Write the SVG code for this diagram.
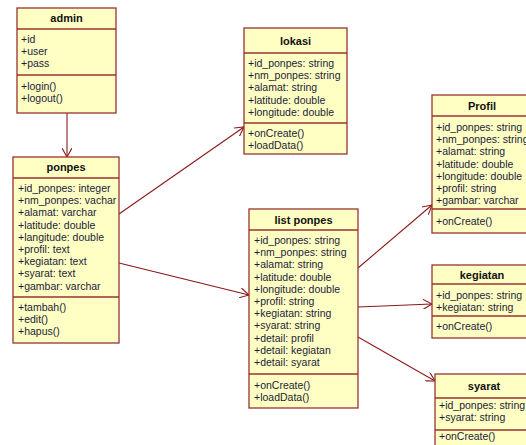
<svg xmlns="http://www.w3.org/2000/svg" width="526" height="445" viewBox="0 0 526 445">
<style>
.box{fill:#FFFFC4;stroke:#993333;stroke-width:1.3}
.sep{stroke:#993333;stroke-width:1.3}
.t{font-family:"Liberation Sans",Arial,sans-serif;font-size:10.5px;fill:#1c1c3a}
.h{font-family:"Liberation Sans",Arial,sans-serif;font-size:11px;font-weight:bold;fill:#111;text-anchor:middle}
.c{stroke:#8B1A1A;stroke-width:1.1;fill:none;marker-end:url(#arr)}
</style>
<defs>
<marker id="arr" markerWidth="10" markerHeight="10" refX="9" refY="5" orient="auto" markerUnits="userSpaceOnUse">
<path d="M0,0 L9,5 L0,10" fill="none" stroke="#8B1A1A" stroke-width="1.1"/>
</marker>
</defs>
<rect width="526" height="445" fill="#fff"/>
<g id="connectors">
<line class="c" x1="67" y1="113" x2="67" y2="157"/>
<line class="c" x1="119" y1="214" x2="244" y2="127"/>
<line class="c" x1="119" y1="263" x2="249" y2="295"/>
<line class="c" x1="358" y1="268" x2="432" y2="205"/>
<line class="c" x1="358" y1="307" x2="432" y2="304"/>
<line class="c" x1="358" y1="337" x2="435" y2="381"/>
</g>
<g id="admin">
<rect class="box" x="17" y="8" width="99" height="105"/>
<line class="sep" x1="17" y1="29" x2="116" y2="29"/>
<line class="sep" x1="17" y1="75" x2="116" y2="75"/>
<text class="h" x="66.5" y="22">admin</text>
<text class="t" x="21" y="43">+id</text>
<text class="t" x="21" y="55.2">+user</text>
<text class="t" x="21" y="67.4">+pass</text>
<text class="t" x="21" y="90">+login()</text>
<text class="t" x="21" y="102">+logout()</text>
</g>
<g id="ponpes">
<rect class="box" x="13" y="157" width="106" height="186"/>
<line class="sep" x1="13" y1="178" x2="119" y2="178"/>
<line class="sep" x1="13" y1="297" x2="119" y2="297"/>
<text class="h" x="66" y="171">ponpes</text>
<text class="t" x="18" y="192">+id_ponpes: integer</text>
<text class="t" x="18" y="204.2">+nm_ponpes: vachar</text>
<text class="t" x="18" y="216.4">+alamat: varchar</text>
<text class="t" x="18" y="228.6">+latitude: double</text>
<text class="t" x="18" y="240.8">+langitude: double</text>
<text class="t" x="18" y="253">+profil: text</text>
<text class="t" x="18" y="265.2">+kegiatan: text</text>
<text class="t" x="18" y="277.4">+syarat: text</text>
<text class="t" x="18" y="289.6">+gambar: varchar</text>
<text class="t" x="18" y="311">+tambah()</text>
<text class="t" x="18" y="323">+edit()</text>
<text class="t" x="18" y="335">+hapus()</text>
</g>
<g id="lokasi">
<rect class="box" x="244" y="28" width="103" height="126"/>
<line class="sep" x1="244" y1="53" x2="347" y2="53"/>
<line class="sep" x1="244" y1="123" x2="347" y2="123"/>
<text class="h" x="295.5" y="45">lokasi</text>
<text class="t" x="248" y="67">+id_ponpes: string</text>
<text class="t" x="248" y="79.2">+nm_ponpes: string</text>
<text class="t" x="248" y="91.4">+alamat: string</text>
<text class="t" x="248" y="103.6">+latitude: double</text>
<text class="t" x="248" y="115.8">+longitude: double</text>
<text class="t" x="248" y="137">+onCreate()</text>
<text class="t" x="248" y="149">+loadData()</text>
</g>
<g id="list-ponpes">
<rect class="box" x="249" y="209" width="109" height="199"/>
<line class="sep" x1="249" y1="230" x2="358" y2="230"/>
<line class="sep" x1="249" y1="374" x2="358" y2="374"/>
<text class="h" x="303.5" y="224">list ponpes</text>
<text class="t" x="254" y="244">+id_ponpes: string</text>
<text class="t" x="254" y="256.2">+nm_ponpes: string</text>
<text class="t" x="254" y="268.4">+alamat: string</text>
<text class="t" x="254" y="280.6">+latitude: double</text>
<text class="t" x="254" y="292.8">+longitude: double</text>
<text class="t" x="254" y="305">+profil: string</text>
<text class="t" x="254" y="317.2">+kegiatan: string</text>
<text class="t" x="254" y="329.4">+syarat: string</text>
<text class="t" x="254" y="341.6">+detail: profil</text>
<text class="t" x="254" y="353.8">+detail: kegiatan</text>
<text class="t" x="254" y="366">+detail: syarat</text>
<text class="t" x="254" y="389">+onCreate()</text>
<text class="t" x="254" y="401">+loadData()</text>
</g>
<g id="profil">
<rect class="box" x="432" y="95" width="100" height="138"/>
<line class="sep" x1="432" y1="116" x2="532" y2="116"/>
<line class="sep" x1="432" y1="209" x2="532" y2="209"/>
<text class="h" x="482" y="110">Profil</text>
<text class="t" x="436" y="131">+id_ponpes: string</text>
<text class="t" x="436" y="143.2">+nm_ponpes: string</text>
<text class="t" x="436" y="155.4">+alamat: string</text>
<text class="t" x="436" y="167.6">+latitude: double</text>
<text class="t" x="436" y="179.8">+longitude: double</text>
<text class="t" x="436" y="192">+profil: string</text>
<text class="t" x="436" y="204.2">+gambar: varchar</text>
<text class="t" x="436" y="225">+onCreate()</text>
</g>
<g id="kegiatan">
<rect class="box" x="432" y="265" width="100" height="73"/>
<line class="sep" x1="432" y1="284" x2="532" y2="284"/>
<line class="sep" x1="432" y1="316" x2="532" y2="316"/>
<text class="h" x="482" y="279">kegiatan</text>
<text class="t" x="436" y="299">+id_ponpes: string</text>
<text class="t" x="436" y="311">+kegiatan: string</text>
<text class="t" x="436" y="330">+onCreate()</text>
</g>
<g id="syarat">
<rect class="box" x="435" y="374" width="100" height="80"/>
<line class="sep" x1="435" y1="398" x2="535" y2="398"/>
<line class="sep" x1="435" y1="430" x2="535" y2="430"/>
<text class="h" x="484" y="390">syarat</text>
<text class="t" x="439" y="409">+id_ponpes: string</text>
<text class="t" x="439" y="421">+syarat: string</text>
<text class="t" x="439" y="440">+onCreate()</text>
</g>
</svg>
